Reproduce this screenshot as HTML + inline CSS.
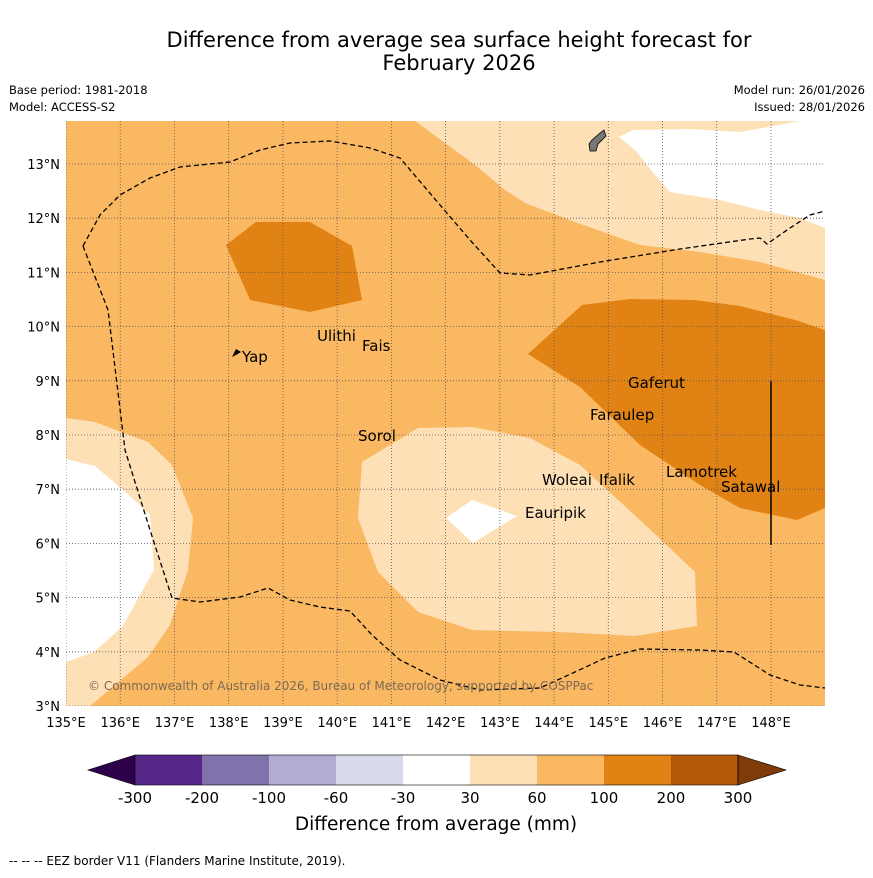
<!DOCTYPE html>
<html><head><meta charset="utf-8"><style>
body{margin:0;background:#fff;font-family:"Liberation Sans","DejaVu Sans",sans-serif}
svg text{font-family:"DejaVu Sans","Liberation Sans",sans-serif}
</style></head><body>
<svg width="873" height="873" viewBox="0 0 873 873" xmlns="http://www.w3.org/2000/svg">
<rect width="873" height="873" fill="#fff"/>
<text x="459" y="47" font-size="21" text-anchor="middle">Difference from average sea surface height forecast for</text>
<text x="459" y="70" font-size="21" text-anchor="middle">February 2026</text>
<text x="9" y="94" font-size="11.5">Base period: 1981-2018</text>
<text x="9" y="111" font-size="11.5">Model: ACCESS-S2</text>
<text x="865" y="94" font-size="11.5" text-anchor="end">Model run: 26/01/2026</text>
<text x="865" y="111" font-size="11.5" text-anchor="end">Issued: 28/01/2026</text>
<defs><clipPath id="mc"><rect x="66" y="121" width="759" height="585"/></clipPath></defs>
<g clip-path="url(#mc)">
<rect x="66" y="121" width="759" height="585" fill="#fbb862"/>
<polygon fill="#fde0b6" points="415,121 475,165 505,190 525,203 575,222 640,245 700,252 760,262 825,280 825,121"/>
<polygon fill="#fff" points="619,137 633,130 690,129 740,132 800,121 825,121 825,228 800,218 760,210 720,200 670,192 655,175 635,150"/>
<polygon fill="#e08214" points="226,245 256,222 310,222 352,246 362,300 310,312 250,300"/>
<polygon fill="#e08214" points="528,354 582,305 630,299 695,300 740,306 795,320 825,330 825,508 797,520 740,508 700,485 640,445 580,387"/>
<polygon fill="#fde0b6" points="362,462 418,428 472,427 530,438 580,465 640,520 695,572 697,626 635,636 560,632 472,630 418,612 378,572 358,518"/>
<polygon fill="#fff" points="446,518 472,500 517,516 473,543"/>
<polygon fill="#fde0b6" points="66,418 95,422 148,442 172,465 193,518 188,570 170,625 148,657 90,706 66,706"/>
<polygon fill="#fff" points="66,459 95,466 130,496 150,515 154,570 122,627 94,652 66,662"/>
<g id="grid"></g>
<polyline fill="none" stroke="#000" stroke-width="1.3" stroke-dasharray="5,3" points="83,246 108,310 125,450 150,530 172,598 200,602 240,597 268,588 290,600 320,607 350,611 372,635 400,660 440,680 480,690 540,688 575,672 605,658 640,649 700,650 734,652 770,675 800,685 825,688"/>
<polyline fill="none" stroke="#000" stroke-width="1.3" stroke-dasharray="5,3" points="83,246 100,215 120,195 150,178 180,167 230,162 260,150 290,143 330,141 370,148 400,158 440,205 470,240 500,273 530,275 600,262 680,249 750,239 760,238 767,244 790,228 810,215 825,211"/>
<line x1="771" y1="381" x2="771" y2="545" stroke="#000" stroke-width="1.5"/>
<path d="M592,140 L600,133 L604,130 L606,136 L598,144 L596,151 L590,151 L589,144 Z" fill="#777" stroke="#000" stroke-width="0.8"/>
<path d="M232,357 L236,349 L241,352 L236,355 Z" fill="#000"/>
<g font-size="15" fill="#000">
<text x="242" y="362">Yap</text><text x="317" y="341">Ulithi</text><text x="362" y="351">Fais</text>
<text x="358" y="441">Sorol</text><text x="628" y="388">Gaferut</text><text x="590" y="420">Faraulep</text>
<text x="542" y="485">Woleai</text><text x="599" y="485">Ifalik</text><text x="666" y="477">Lamotrek</text>
<text x="721" y="492">Satawal</text><text x="525" y="518">Eauripik</text>
</g>
<text x="88" y="690" font-size="12" fill="#7a6a55">© Commonwealth of Australia 2026, Bureau of Meteorology, supported by COSPPac</text>
</g>
<g id="axes"></g>
<g id="cbar"></g>
<text x="436" y="830" font-size="18.5" text-anchor="middle">Difference from average (mm)</text>
<text x="9" y="865" font-size="12">-- -- -- EEZ border V11 (Flanders Marine Institute, 2019).</text>
</svg>
<script>
const lonTicks=[135,136,137,138,139,140,141,142,143,144,145,146,147,148];
const latTicks=[3,4,5,6,7,8,9,10,11,12,13];
const cbarLevels=[-300,-200,-100,-60,-30,30,60,100,200,300];
const cbarColors=["#542788","#8073ac","#b2abd2","#d8daeb","#ffffff","#fde0b6","#fbb862","#e08214","#b35806"];
const NS="http://www.w3.org/2000/svg";
const xS=l=>66+(l-135)*54.23, yS=l=>706-(l-3)*54.2;
function mk(t,a,p){const e=document.createElementNS(NS,t);for(const k in a)e.setAttribute(k,a[k]);p.appendChild(e);return e;}
const grid=document.getElementById('grid'),axes=document.getElementById('axes'),cb=document.getElementById('cbar');
lonTicks.forEach(l=>{const x=xS(l);
 const g=mk('line',{x1:x,y1:121,x2:x,y2:706,stroke:'#555','stroke-width':0.8,'stroke-dasharray':'1,2'},grid);
 
 
 const t=mk('text',{x:x,y:727,'font-size':13,'text-anchor':'middle'},axes);t.textContent=l+'°E';
 
 });
latTicks.forEach(l=>{const y=yS(l);
 const g=mk('line',{x1:66,y1:y,x2:825,y2:y,stroke:'#555','stroke-width':0.8,'stroke-dasharray':'1,2'},grid);
 
 
 const t=mk('text',{x:60,y:y+5,'font-size':13,'text-anchor':'end'},axes);t.textContent=l+'°N';
 
 });
const cx0=135,cw=67,cy=755,ch=30;
const lt=mk('polygon',{points:`${cx0},${cy} ${cx0},${cy+ch} 88,${cy+ch/2}`,fill:'#2d004b',stroke:'#000','stroke-width':0.6},cb);


cbarColors.forEach((c,i)=>{const r=mk('rect',{x:cx0+i*cw,y:cy,width:cw,height:ch,fill:c},cb);
 
 });
const xe=cx0+cbarColors.length*cw;
const rt=mk('polygon',{points:`${xe},${cy} ${xe},${cy+ch} 786,${cy+ch/2}`,fill:'#7f3b08',stroke:'#000','stroke-width':0.6},cb);


mk('rect',{x:cx0,y:cy,width:xe-cx0,height:ch,fill:'none',stroke:'#000','stroke-width':0.6},cb);
cbarLevels.forEach((v,i)=>{const t=mk('text',{x:cx0+i*cw,y:803,'font-size':15,'text-anchor':'middle'},cb);t.textContent=v;
 
 });
</script>
</body></html>
